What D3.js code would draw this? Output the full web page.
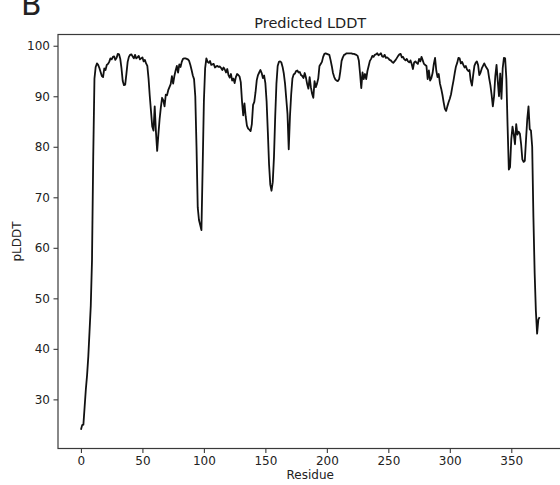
<!DOCTYPE html>
<html>
<head>
<meta charset="utf-8">
<script src="https://cdn.jsdelivr.net/npm/d3@7"></script>
<style>
  html, body { margin: 0; padding: 0; background: #fff; }
  svg { display: block; }
  text { font-family: "DejaVu Sans", sans-serif; fill: #222; }
</style>
</head>
<body>
<svg id="chart" width="560" height="485"></svg>
<script>
// Per-residue predicted LDDT (residue index = position in the array)
const pLDDT = [
  24.0, 24.9, 25.0, 28.5, 32.0, 34.8, 38.5, 43.5, 48.5, 57.5,
  78.0, 93.5, 95.8, 96.5, 96.2, 95.6, 94.8, 94.0, 93.8, 95.5,
  95.2, 96.2, 96.4, 96.8, 97.5, 97.3, 97.8, 97.9, 97.2, 97.6,
  98.4, 98.3, 97.4, 95.5, 93.0, 92.2, 92.3, 94.5, 96.8, 97.8,
  98.2, 98.3, 97.9, 97.5, 98.2, 97.5, 97.7, 98.0, 97.3, 97.5,
  97.7, 96.9, 97.2, 96.5, 96.0, 93.5, 90.0, 87.0, 84.0, 83.2,
  88.0, 83.0, 79.2, 82.5, 85.5, 87.8, 89.7, 89.2, 88.0, 90.3,
  90.2, 91.2, 91.8, 92.4, 94.0, 92.5, 94.0, 95.1, 96.0, 94.7,
  96.3, 95.8, 96.8, 97.4, 97.5, 97.5, 97.4, 97.3, 97.0, 96.2,
  95.2, 94.1, 93.4, 90.0, 80.0, 68.0, 65.5, 64.5, 63.5, 76.0,
  89.0, 95.5, 97.5, 96.8, 96.6, 97.0, 96.2, 96.3, 96.4, 95.7,
  95.9, 96.0, 95.8, 95.9, 95.6, 95.2, 95.7, 95.3, 94.7, 95.4,
  94.2, 93.7, 94.4, 93.1, 93.5, 92.6, 93.8, 94.4, 94.2, 93.9,
  92.8, 89.0, 86.2, 88.6, 86.0, 84.2, 83.6, 83.4, 83.1, 84.5,
  88.3, 88.9, 90.8, 93.2, 94.2, 94.7, 95.2, 94.6, 93.6, 94.1,
  92.6, 89.0, 83.0, 76.5, 72.5, 71.3, 73.0, 78.0, 86.0, 92.5,
  96.0, 96.8, 96.9, 96.7, 95.8, 94.5, 92.5, 89.5, 86.5, 79.5,
  86.0, 90.4, 93.5, 94.3, 94.5, 95.0, 95.1, 94.7, 94.8, 94.2,
  94.0, 93.6, 94.6, 93.7, 92.4, 91.5, 93.8, 91.8, 90.5, 89.7,
  93.0, 91.8, 92.5, 93.5, 96.0, 96.4, 96.8, 97.8, 98.4, 98.5,
  98.4, 98.3, 98.2, 97.2, 96.0, 94.6, 93.8, 93.3, 93.1, 93.0,
  93.4, 95.0, 97.0, 97.7, 98.2, 98.3, 98.5, 98.5, 98.5, 98.5,
  98.5, 98.4, 98.4, 98.3, 98.2, 98.0, 97.1, 94.5, 91.6, 94.7,
  93.4, 94.4, 93.4, 95.0, 96.0, 97.0, 97.4, 98.0, 97.8, 98.2,
  98.3, 98.5, 98.1, 98.3, 98.5, 97.9, 97.8, 98.2, 97.6, 97.7,
  97.5, 97.2, 97.1, 96.8, 96.6, 96.9, 97.2, 97.6, 98.0, 98.3,
  98.4, 97.7, 97.8, 97.3, 97.1, 97.4, 96.9, 96.7, 97.1, 96.4,
  95.4, 96.7, 96.9, 96.6, 96.4, 97.4, 96.9, 97.8, 97.1, 96.4,
  96.2, 96.0, 93.4, 95.1, 93.1, 93.6, 94.6, 96.4, 97.6, 95.1,
  93.8, 94.4, 92.5, 91.5, 90.3, 88.8, 87.5, 87.1, 88.0, 88.8,
  89.5, 90.4, 91.8, 93.1, 94.6, 95.9, 96.6, 97.6, 97.5, 96.5,
  96.8, 96.2, 95.7, 96.0, 95.3, 95.0, 95.2, 93.1, 92.1, 94.2,
  96.0, 96.6, 96.9, 96.2, 94.2, 94.7, 95.5, 96.0, 96.5, 96.0,
  95.6, 95.2, 93.6, 92.2, 90.3, 88.0, 90.0, 94.0, 96.2, 93.0,
  90.0, 94.5, 89.5, 95.5, 97.6, 97.5, 93.5, 84.0, 75.5, 76.0,
  81.5, 84.0, 82.5, 80.5, 84.5, 82.4, 83.0, 82.6, 80.5, 77.5,
  77.0, 77.2, 81.5, 85.5, 88.0, 83.5, 83.2, 80.0, 66.0, 55.0,
  47.5, 43.0, 45.8, 46.3
];

const xTicks = [0, 50, 100, 150, 200, 250, 300, 350];
const yTicks = [30, 40, 50, 60, 70, 80, 90, 100];

const titleText = "Predicted LDDT";
const xLabel = "Residue";
const yLabel = "pLDDT";
const panelLetter = "B";

// Axes box (the right edge runs past the canvas)
const box = { left: 58, right: 562.5, top: 34.5, bottom: 448.5 };

const svg = d3.select("#chart");

// Auto-limits with 5% padding on each side
const n = pLDDT.length;
const xPad = (n - 1) * 0.05;
const yMin = d3.min(pLDDT), yMax = d3.max(pLDDT);
const yPad = (yMax - yMin) * 0.05;

const x = d3.scaleLinear().domain([-xPad, n - 1 + xPad]).range([box.left, box.right]);
const y = d3.scaleLinear().domain([yMin - yPad, yMax + yPad]).range([box.bottom, box.top]);

// Frame
svg.append("rect")
  .attr("x", box.left).attr("y", box.top)
  .attr("width", box.right - box.left).attr("height", box.bottom - box.top)
  .attr("fill", "none").attr("stroke", "#3a3a3a").attr("stroke-width", 1.2);

// Axes
const xAxis = svg.append("g")
  .attr("transform", `translate(0,${box.bottom})`)
  .call(d3.axisBottom(x).tickValues(xTicks).tickFormat(d3.format("d")).tickSize(4.5).tickPadding(3.5));
const yAxis = svg.append("g")
  .attr("transform", `translate(${box.left},0)`)
  .call(d3.axisLeft(y).tickValues(yTicks).tickFormat(d3.format("d")).tickSize(4.5).tickPadding(3.5));

[xAxis, yAxis].forEach(g => {
  g.select(".domain").remove();
  g.selectAll(".tick line").attr("stroke", "#3a3a3a").attr("stroke-width", 1.1);
  g.selectAll(".tick text")
    .attr("font-family", "DejaVu Sans, sans-serif")
    .attr("font-size", 12).attr("fill", "#222");
});

// Line
const line = d3.line()
  .x((d, i) => x(i))
  .y(d => y(d));

svg.append("path")
  .datum(pLDDT)
  .attr("d", line)
  .attr("fill", "none")
  .attr("stroke", "#111")
  .attr("stroke-width", 1.8)
  .attr("stroke-linejoin", "round");

// Title and axis labels
svg.append("text")
  .attr("x", (box.left + box.right) / 2).attr("y", 28)
  .attr("text-anchor", "middle").attr("font-size", 14.5)
  .text(titleText);

svg.append("text")
  .attr("x", (box.left + box.right) / 2).attr("y", 479)
  .attr("text-anchor", "middle").attr("font-size", 12)
  .text(xLabel);

svg.append("text")
  .attr("transform", `translate(20.5,${(box.top + box.bottom) / 2}) rotate(-90)`)
  .attr("text-anchor", "middle").attr("font-size", 12)
  .text(yLabel);

// Panel letter
svg.append("text")
  .attr("x", 21).attr("y", 15)
  .attr("font-family", "Liberation Sans, Arial, sans-serif")
  .attr("font-size", 30).attr("fill", "#111")
  .text(panelLetter);
</script>
</body>
</html>
